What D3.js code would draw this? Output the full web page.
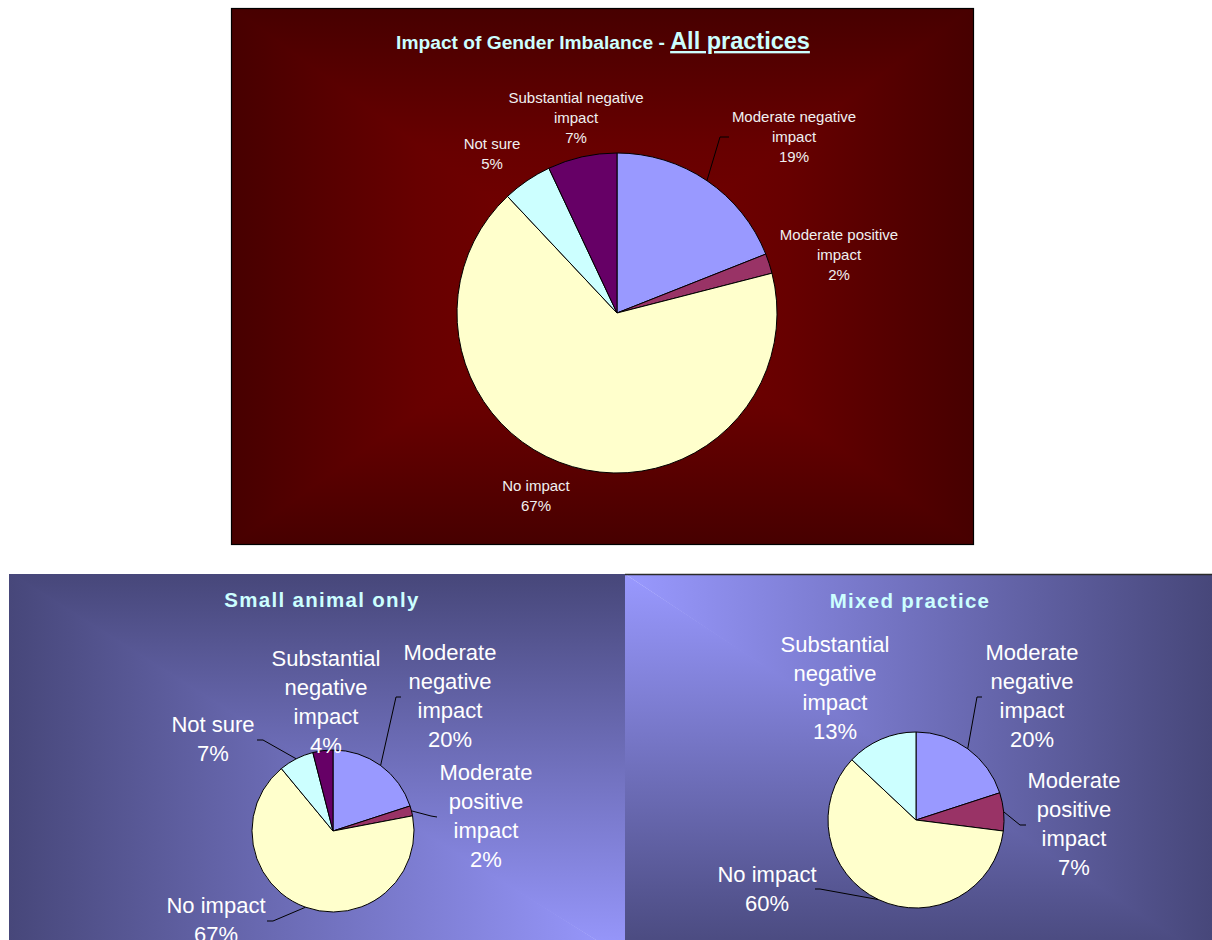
<!DOCTYPE html>
<html>
<head>
<meta charset="utf-8">
<script src="https://cdn.jsdelivr.net/npm/d3@7"></script>
<style>
  html, body { margin: 0; padding: 0; background: #ffffff; }
  svg { display: block; }
</style>
</head>
<body>
<svg id="chart" width="1212" height="940"></svg>
<script>
// ---- Data: survey answers on the impact of gender imbalance (percent of respondents) ----
// Slices run clockwise from 12 o'clock in this order.
const allCategories = ["Moderate negative impact", "Moderate positive impact", "No impact", "Not sure", "Substantial negative impact"];
const allValues = [19, 2, 67, 5, 7];

const smallCategories = ["Moderate negative impact", "Moderate positive impact", "No impact", "Not sure", "Substantial negative impact"];
const smallValues = [20, 2, 67, 7, 4];

const mixedCategories = ["Moderate negative impact", "Moderate positive impact", "No impact", "Substantial negative impact"];
const mixedValues = [20, 7, 60, 13];

// Slice fills are taken by point index, as in the spreadsheet default palette.
const sliceColors = ["#9999ff", "#993366", "#ffffcc", "#ccffff", "#660066"];

const mainTitle = "Impact of Gender Imbalance - ";
const mainSubtitle = "All practices";
const smallTitle = "Small animal only";
const mixedTitle = "Mixed practice";

// ---- Layout ----
const FONT = "'Liberation Sans', Arial, Helvetica, sans-serif";
const svg = d3.select("#chart");
const defs = svg.append("defs");

// Rectangular ("from centre / from corner") gradient: four triangles meeting at the focus,
// each filled with a linear ramp from the focus towards its own edge. The outer corners of
// each triangle are pushed out a little so neighbouring triangles overlap and no seam shows.
let gradCount = 0;
function rectGradientPanel(x0, y0, x1, y1, fx, fy, stops) {
  const g = svg.append("g");
  const e = 3;
  const sides = [
    { pts: [[fx, fy], [x0 - e, y0], [x1 + e, y0]], to: [fx, y0] },
    { pts: [[fx, fy], [x1, y0 - e], [x1, y1 + e]], to: [x1, fy] },
    { pts: [[fx, fy], [x1 + e, y1], [x0 - e, y1]], to: [fx, y1] },
    { pts: [[fx, fy], [x0, y1 + e], [x0, y0 - e]], to: [x0, fy] }
  ];
  const clipId = "clip" + (gradCount++);
  defs.append("clipPath").attr("id", clipId)
    .append("rect").attr("x", x0).attr("y", y0).attr("width", x1 - x0).attr("height", y1 - y0);
  g.attr("clip-path", `url(#${clipId})`);
  sides.forEach(s => {
    const len = Math.hypot(s.to[0] - fx, s.to[1] - fy);
    if (len < 0.5) return;
    const id = "rg" + (gradCount++);
    const lg = defs.append("linearGradient").attr("id", id)
      .attr("gradientUnits", "userSpaceOnUse")
      .attr("x1", fx).attr("y1", fy).attr("x2", s.to[0]).attr("y2", s.to[1]);
    stops.forEach(st => lg.append("stop").attr("offset", st[0]).attr("stop-color", st[1]));
    g.append("polygon")
      .attr("points", s.pts.map(p => p.join(",")).join(" "))
      .attr("fill", `url(#${id})`);
  });
  return g;
}

// Top panel (dark red, lit from the centre)
const topPanel = { x0: 231, y0: 8, x1: 973, y1: 544 };
rectGradientPanel(topPanel.x0, topPanel.y0, topPanel.x1, topPanel.y1,
  (topPanel.x0 + topPanel.x1) / 2, (topPanel.y0 + topPanel.y1) / 2 + 4,
  [[0, "#780000"], [0.5, "#670000"], [1, "#470000"]]);
svg.append("rect")
  .attr("x", topPanel.x0 + 0.5).attr("y", topPanel.y0 + 0.5)
  .attr("width", topPanel.x1 - topPanel.x0).attr("height", topPanel.y1 - topPanel.y0)
  .attr("fill", "none").attr("stroke", "#000").attr("stroke-width", 1.2);

// Bottom panels (slate blue, lit from the shared inner corners)
const blueStops = [[0, "#9999ff"], [1, "#47477a"]];
rectGradientPanel(9, 574, 625, 962, 625, 958, blueStops);
rectGradientPanel(625, 574, 1212, 962, 625, 574, blueStops);
svg.append("line").attr("x1", 625).attr("x2", 1212).attr("y1", 574.5).attr("y2", 574.5)
  .attr("stroke", "#2a2a2a").attr("stroke-width", 1.3);

// ---- Titles ----
const t = svg.append("text")
  .attr("x", 603).attr("y", 49)
  .attr("text-anchor", "middle")
  .attr("font-family", FONT).attr("font-weight", "bold")
  .attr("fill", "#ccffff");
t.append("tspan").attr("font-size", 19.2).text(mainTitle);
t.append("tspan").attr("font-size", 23.5).attr("text-decoration", "underline").text(mainSubtitle);

function panelTitle(text, x, y) {
  svg.append("text")
    .attr("x", x).attr("y", y)
    .attr("text-anchor", "middle")
    .attr("font-family", FONT).attr("font-weight", "bold")
    .attr("font-size", 20.5).attr("letter-spacing", 1.3)
    .attr("fill", "#ccffff")
    .text(text);
}
panelTitle(smallTitle, 322, 607);
panelTitle(mixedTitle, 910, 608);

// ---- Pie drawing ----
const measureCtx = document.createElement("canvas").getContext("2d");
function wrapLabel(text, fontSize, maxWidth) {
  measureCtx.font = `${fontSize}px ${FONT}`;
  const words = text.split(" ");
  const lines = [];
  let cur = "";
  words.forEach(w => {
    const test = cur ? cur + " " + w : w;
    if (cur && measureCtx.measureText(test).width > maxWidth) {
      lines.push(cur);
      cur = w;
    } else {
      cur = test;
    }
  });
  if (cur) lines.push(cur);
  return lines;
}

function drawPie(cfg) {
  const rows = cfg.categories.map((c, i) => ({ category: c, value: cfg.values[i], color: sliceColors[i] }));
  const slices = d3.pie().sort(null).value(d => d.value)(rows);
  const arc = d3.arc().innerRadius(0).outerRadius(cfg.radius);
  const g = svg.append("g").attr("transform", `translate(${cfg.cx},${cfg.cy})`);

  g.selectAll("path.slice").data(slices).join("path")
    .attr("class", "slice")
    .attr("d", arc)
    .attr("fill", d => d.data.color)
    .attr("stroke", "#000")
    .attr("stroke-width", 1)
    .attr("stroke-linejoin", "round");

  // Leader lines from the slice edge (mid-angle) to the label
  const line = d3.line();
  slices.forEach(d => {
    const ld = cfg.leaders[d.data.category];
    if (!ld) return;
    const mid = (d.startAngle + d.endAngle) / 2;
    const start = [Math.sin(mid) * cfg.radius, -Math.cos(mid) * cfg.radius];
    g.append("path")
      .attr("d", line([start, ld.elbow, ld.end]))
      .attr("fill", "none").attr("stroke", "#000").attr("stroke-width", 1);
  });

  // Category and percentage labels
  slices.forEach(d => {
    const pos = cfg.labels[d.data.category];
    const lines = wrapLabel(d.data.category, cfg.fontSize, cfg.wrapWidth).concat([d.data.value + "%"]);
    const txt = g.append("text")
      .attr("text-anchor", "middle")
      .attr("font-family", FONT)
      .attr("font-size", cfg.fontSize)
      .attr("fill", cfg.textColor);
    lines.forEach((l, i) => {
      txt.append("tspan")
        .attr("x", pos[0])
        .attr("y", pos[1] + i * cfg.lineStep + cfg.fontSize * 0.36)
        .text(l);
    });
  });
}

drawPie({
  categories: allCategories, values: allValues,
  cx: 617, cy: 313, radius: 160,
  fontSize: 15, lineStep: 20, wrapWidth: 140, textColor: "#f0f0f0",
  labels: {
    "Moderate negative impact": [177, -196],
    "Moderate positive impact": [222, -78],
    "No impact": [-81, 173],
    "Not sure": [-125, -169],
    "Substantial negative impact": [-41, -215]
  },
  leaders: {
    "Moderate negative impact": { elbow: [103, -176], end: [112, -176] }
  }
});

drawPie({
  categories: smallCategories, values: smallValues,
  cx: 333, cy: 831, radius: 81,
  fontSize: 22, lineStep: 29, wrapWidth: 110, textColor: "#ffffff",
  labels: {
    "Moderate negative impact": [117, -179],
    "Moderate positive impact": [153, -59],
    "No impact": [-117, 74],
    "Not sure": [-120, -107],
    "Substantial negative impact": [-7, -173]
  },
  leaders: {
    "Moderate negative impact": { elbow: [63, -134], end: [68, -134] },
    "Moderate positive impact": { elbow: [98, -15], end: [104, -14] },
    "No impact": { elbow: [-60, 90], end: [-66, 90] },
    "Not sure": { elbow: [-70, -91], end: [-76, -91] }
  }
});

drawPie({
  categories: mixedCategories, values: mixedValues,
  cx: 916, cy: 820, radius: 88,
  fontSize: 22, lineStep: 29, wrapWidth: 110, textColor: "#ffffff",
  labels: {
    "Moderate negative impact": [116, -168],
    "Moderate positive impact": [158, -40],
    "No impact": [-149, 54],
    "Substantial negative impact": [-81, -176]
  },
  leaders: {
    "Moderate negative impact": { elbow: [61, -123], end: [66, -123] },
    "Moderate positive impact": { elbow: [104, 5], end: [110, 5] },
    "No impact": { elbow: [-96, 69], end: [-101, 69] }
  }
});
</script>
</body>
</html>
